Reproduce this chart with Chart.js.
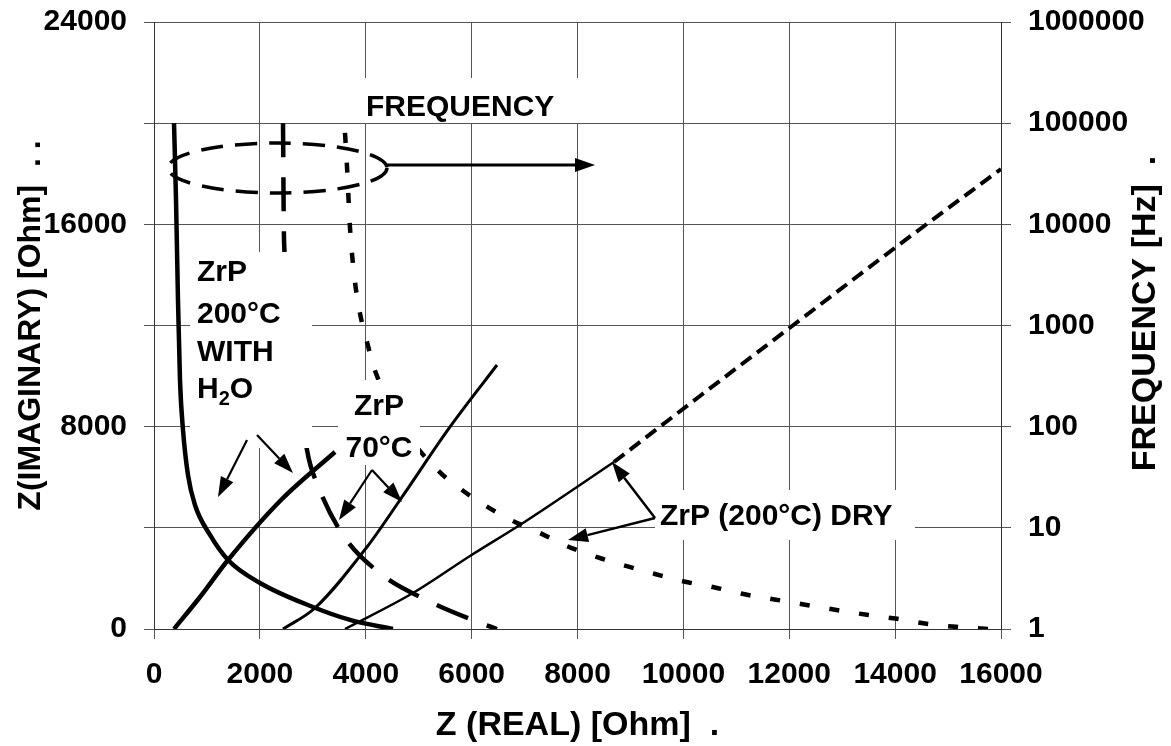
<!DOCTYPE html>
<html><head><meta charset="utf-8">
<script src="https://cdn.jsdelivr.net/npm/chart.js@4/dist/chart.umd.min.js"></script>
<style>html,body{margin:0;padding:0;background:#fff;}canvas{display:block;}</style>
</head><body>
<canvas id="c" width="1171" height="746"></canvas>
<script>
// ---------------- data ----------------
const xTickStep = 2000;
const yLabelledTicks = [0, 8000, 16000, 24000];
const freqTicks = [1, 10, 100, 1000, 10000, 100000, 1000000];

// ZrP 200°C WITH H2O
const h2oImpRe  = [378, 869, 1398, 2418, 3419];
const h2oImpIm  = [0, 1265, 2728, 5140, 6999];
const h2oFreqRe = [378, 416, 453, 491, 548, 642, 774, 1058, 1398, 2002, 3003, 3702, 4515];
const h2oFreqHz = [100000, 17400, 1790, 289, 92.7, 33.3, 16.8, 8.5, 4.81, 2.85, 1.65, 1.23, 1];

// ZrP 70°C
const c70ImpRe  = [2437, 3041, 4023, 4647, 5591, 6479];
const c70ImpIm  = [0, 830, 3242, 5101, 7987, 10438];
const c70FreqRe = [2437, 2456, 2682, 2890, 3098, 3570, 4288, 5176, 6158, 6479];
const c70FreqHz = [100000, 7000, 450, 59, 26, 8.5, 3.5, 1.9, 1.15, 1];

// ZrP (200°C) DRY
const dryImpRe  = [3608, 4892, 5969, 6970, 8689, 10314, 12203, 14093, 16000];
const dryImpIm  = [0, 1423, 2886, 4191, 6603, 9213, 12218, 15223, 18188];
const dryFreqRe = [3608, 3646, 3702, 3797, 3891, 4023, 4174, 4703, 5365, 5780, 6290, 6781, 7291, 7801,
                   8387, 8916, 9464, 10012, 10597, 11183, 11750, 12298, 12865, 13469, 14036, 14621, 15150, 15754];
const dryFreqHz = [80000, 37000, 9300, 2700, 1320, 690, 360, 98, 37, 24.5, 16.2, 11.7, 8.9, 6.6,
                   5.1, 4.2, 3.5, 2.95, 2.57, 2.19, 1.95, 1.74, 1.55, 1.38, 1.26, 1.12, 1.05, 1];
const dryStyleBreak = 8689;   // the DRY impedance line turns from thin solid to thick dashed here

const zip = (xs, ys) => xs.map((x, i) => ({x, y: ys[i]}));

// ---------------- annotations (in data units of x / left y axis) ----------------
const FONT = '"Liberation Sans", Arial, sans-serif';
const labelBoxes = [
  {x0: 3986, x1: 8274, y0: 20008, y1: 21787},   // FREQUENCY
  {x0: 680,  x1: 2985, y0: 7157,  y1: 14907},   // ZrP 200°C WITH H2O
  {x0: 3476, x1: 5025, y0: 6485,  y1: 9845},    // ZrP 70°C
  {x0: 9464, x1: 14375, y0: 3519, y1: 5496}     // ZrP (200°C) DRY
];
const labelTexts = [
  {runs: [{t: 'FREQUENCY'}], x: 4004, y: 20602, align: 'left'},
  {runs: [{t: 'ZrP'}], x: 812, y: 14076, align: 'left'},
  {runs: [{t: '200°C'}], x: 812, y: 12416, align: 'left'},
  {runs: [{t: 'WITH'}], x: 812, y: 10913, align: 'left'},
  {runs: [{t: 'H'}, {t: '2', sub: true}, {t: 'O'}], x: 812, y: 9450, align: 'left'},
  {runs: [{t: 'ZrP'}], x: 4250, y: 8778, align: 'center'},
  {runs: [{t: '70°C'}], x: 4250, y: 7117, align: 'center'},
  {runs: [{t: 'ZrP (200°C) DRY'}], x: 9558, y: 4428, align: 'left'}
];
const labelArrows = [
  {x0: 4401, y0: 18346, x1: 8331, y1: 18346, w: 3},
  {x0: 1757, y0: 7473, x1: 1209, y1: 5219, w: 2.2},
  {x0: 1946, y0: 7671, x1: 2626, y1: 6168, w: 2.2},
  {x0: 4118, y0: 6287, x1: 3495, y1: 4310, w: 2.2},
  {x0: 4118, y0: 6287, x1: 4685, y1: 5022, w: 2.2},
  {x0: 9464, y0: 4389, x1: 8652, y1: 6603, w: 2.5},
  {x0: 9464, y0: 4389, x1: 7821, y1: 3519, w: 2.5}
];
const freqEllipse = {cx: 2333, cy: 18228, rx: 2068, ry: 988};

function drawArrow(ctx, x0, y0, x1, y1, lw, hl, hw) {
  const a = Math.atan2(y1 - y0, x1 - x0);
  const bx = x1 - hl * Math.cos(a), by = y1 - hl * Math.sin(a);
  ctx.lineWidth = lw; ctx.setLineDash([]);
  ctx.beginPath(); ctx.moveTo(x0, y0); ctx.lineTo(bx, by); ctx.stroke();
  ctx.beginPath(); ctx.moveTo(x1, y1);
  ctx.lineTo(bx + hw / 2 * Math.sin(a), by - hw / 2 * Math.cos(a));
  ctx.lineTo(bx - hw / 2 * Math.sin(a), by + hw / 2 * Math.cos(a));
  ctx.closePath(); ctx.fill();
}

function drawRuns(ctx, item, X, Y) {
  const big = 'bold 30px ' + FONT, small = 'bold 20px ' + FONT;
  let total = 0;
  item.runs.forEach(r => { ctx.font = r.sub ? small : big; total += ctx.measureText(r.t).width; });
  let x = item.align === 'center' ? X - total / 2 : X;
  ctx.textAlign = 'left'; ctx.textBaseline = 'middle';
  item.runs.forEach(r => {
    ctx.font = r.sub ? small : big;
    ctx.fillText(r.t, x, r.sub ? Y + 9 : Y);
    x += ctx.measureText(r.t).width;
  });
}

const annotationPlugin = {
  id: 'notes',
  afterDatasetsDraw(chart) {
    const ctx = chart.ctx, sx = chart.scales.x, sy = chart.scales.y;
    const X = v => sx.getPixelForValue(v), Y = v => sy.getPixelForValue(v);
    ctx.save();
    ctx.fillStyle = '#fff';
    labelBoxes.forEach(b => ctx.fillRect(X(b.x0), Y(b.y1), X(b.x1) - X(b.x0), Y(b.y0) - Y(b.y1)));
    ctx.fillStyle = '#000'; ctx.strokeStyle = '#000';
    labelTexts.forEach(t => drawRuns(ctx, t, X(t.x), Y(t.y)));
    labelArrows.forEach(a => drawArrow(ctx, X(a.x0), Y(a.y0), X(a.x1), Y(a.y1), a.w, 20, 14));
    // dashed ellipse around the frequency curves
    const e = freqEllipse;
    ctx.lineWidth = 3.5; ctx.setLineDash([22, 12]);
    ctx.beginPath();
    ctx.ellipse(X(e.cx), Y(e.cy), X(e.cx + e.rx) - X(e.cx), Y(e.cy) - Y(e.cy + e.ry), 0, 0, Math.PI * 2);
    ctx.stroke();
    ctx.restore();
  },
  afterDraw(chart) {
    const ctx = chart.ctx, a = chart.chartArea;
    ctx.save();
    ctx.fillStyle = '#000';
    ctx.font = 'bold 34px ' + FONT;
    ctx.translate(chart.width - 25, (a.top + a.bottom) / 2 - 12);
    ctx.rotate(-Math.PI / 2);
    ctx.textAlign = 'center'; ctx.textBaseline = 'middle';
    ctx.fillText('FREQUENCY [Hz]  .', 0, 0);
    ctx.restore();
  }
};

const GRID = '#555';
const tickFont = {family: FONT, size: 30, weight: 'bold'};
const noPad = s => { s.paddingTop = 0; s.paddingBottom = 0; s.paddingLeft = 0; s.paddingRight = 0; };
const dryImp = zip(dryImpRe, dryImpIm);

new Chart(document.getElementById('c'), {
  type: 'scatter',
  data: {
    datasets: [
      {label: 'ZrP 200°C WITH H2O Z', data: zip(h2oImpRe, h2oImpIm), yAxisID: 'y',
       borderColor: '#000', borderWidth: 4.5},
      {label: 'ZrP 200°C WITH H2O f', data: zip(h2oFreqRe, h2oFreqHz), yAxisID: 'yf',
       borderColor: '#000', borderWidth: 4.5},
      {label: 'ZrP 70°C Z', data: zip(c70ImpRe, c70ImpIm), yAxisID: 'y',
       borderColor: '#000', borderWidth: 3},
      {label: 'ZrP 70°C f', data: zip(c70FreqRe, c70FreqHz), yAxisID: 'yf',
       borderColor: '#000', borderWidth: 4.5, borderDash: [34, 20]},
      {label: 'ZrP (200°C) DRY Z', data: dryImp.filter(p => p.x <= dryStyleBreak), yAxisID: 'y',
       borderColor: '#000', borderWidth: 2.5},
      {label: 'ZrP (200°C) DRY Z (cont.)', data: dryImp.filter(p => p.x >= dryStyleBreak), yAxisID: 'y',
       borderColor: '#000', borderWidth: 4, borderDash: [13, 7]},
      {label: 'ZrP (200°C) DRY f', data: zip(dryFreqRe, dryFreqHz), yAxisID: 'yf',
       borderColor: '#000', borderWidth: 4.5, borderDash: [10, 20]}
    ].map(d => Object.assign({showLine: true, pointRadius: 0, pointHoverRadius: 0,
                              cubicInterpolationMode: 'monotone', fill: false}, d))
  },
  options: {
    responsive: false, animation: false, devicePixelRatio: 1,
    layout: {padding: {top: 22, left: 0, right: 0, bottom: 0}},
    plugins: {legend: {display: false}, tooltip: {enabled: false}},
    scales: {
      x: {
        type: 'linear', min: 0, max: 16000,
        ticks: {stepSize: xTickStep, color: '#000', font: tickFont, padding: 18,
                autoSkip: false, maxRotation: 0, callback: v => String(v)},
        grid: {color: GRID, lineWidth: 1, tickLength: 10, tickColor: GRID},
        border: {color: '#333', width: 1},
        title: {display: true, text: 'Z (REAL) [Ohm]  .', color: '#000',
                font: {family: FONT, size: 34, weight: 'bold'}, padding: {top: 0, bottom: 0}},
        afterFit(s) { s.height = 117; noPad(s); }
      },
      y: {
        type: 'linear', position: 'left', min: 0, max: 24000,
        ticks: {stepSize: 4000, color: '#000', font: tickFont, padding: 17, autoSkip: false,
                callback: v => (yLabelledTicks.includes(v) ? String(v) : '')},
        grid: {color: GRID, lineWidth: 1, tickLength: 10, tickColor: GRID},
        border: {color: '#333', width: 1},
        title: {display: true, text: 'Z(IMAGINARY) [Ohm]  . .', color: '#000',
                font: {family: FONT, size: 32, weight: 'bold'}, padding: {top: 12, bottom: 0}},
        afterFit(s) { s.width = 154; noPad(s); }
      },
      yf: {
        type: 'logarithmic', position: 'right', min: 1, max: 1000000,
        afterBuildTicks(s) { s.ticks = freqTicks.map(v => ({value: v})); },
        ticks: {color: '#000', font: tickFont, padding: 17, autoSkip: false, callback: v => String(v)},
        grid: {drawOnChartArea: false, color: GRID, tickLength: 10, tickColor: GRID},
        border: {color: '#333', width: 1},
        afterFit(s) { s.width = 170; noPad(s); }
      }
    }
  },
  plugins: [annotationPlugin]
});
</script>
</body></html>
